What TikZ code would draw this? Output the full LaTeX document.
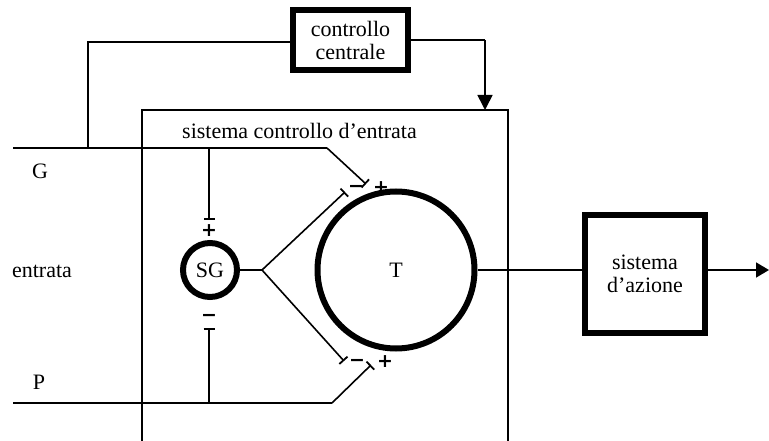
\documentclass[tikz,border=0pt]{standalone}
\usepackage{fontspec}
\setmainfont{Liberation Serif}
\newfontfamily\signfont{DejaVu Sans}
\usetikzlibrary{arrows.meta}
\begin{document}
\begin{tikzpicture}[x=1pt,y=-1pt,
  thin line/.style={line width=1.6pt},
  thickbox/.style={draw,line width=6.5pt,align=center,inner sep=0pt,font=\fontsize{22}{23}\selectfont},
  ring/.style={draw,circle,line width=6pt,inner sep=0pt,font=\fontsize{22}{23}\selectfont},
  lbl/.style={font=\fontsize{22}{23}\selectfont,inner sep=0pt},
  sgn/.style={font=\signfont\fontsize{19}{19}\selectfont\bfseries,inner sep=0pt},
  bartip/.style={-{Bar[width=11pt,line width=1.8pt]}}]
\useasboundingbox (0,0) rectangle (769,441);
% nodes
\node[thickbox,minimum width=115,minimum height=60] (cc) at (350.5,40) {controllo\\centrale};
\node[thickbox,minimum width=120,minimum height=118] (sa) at (645,274) {sistema\\d’azione};
\node[ring,minimum size=54] (sg) at (210,270) {SG};
\node[ring,minimum size=157] (t) at (396,270) {T};
% outer open box
\coordinate (bl) at (142,441);
\coordinate (btl) at (142,110);
\coordinate (btr) at (508,110);
\coordinate (br) at (508,441);
\draw[thin line] (bl) -- (btl) -- (btr) -- (br);
\node[lbl,anchor=west] (sce) at (182,131) {sistema controllo d’entrata};
% labels
\node[lbl] (G) at (40,171) {G};
\node[lbl] (en) at (42,271) {entrata};
\node[lbl] (P) at (39,382) {P};
% G line
\coordinate (gs) at (13,148);
\coordinate (gk) at (327,148);
\coordinate (ge) at (366,184);
\coordinate (gj) at (209,148);
\coordinate (gb) at (209,220);
\coordinate (cj) at (88,148);
\coordinate (cl) at (88,42);
\draw[thin line] (gs) -- (gk);
\draw[thin line,bartip] (gk) -- (ge);
\draw[thin line,bartip] (gj) -- (gb);
\draw[thin line] (cc.west |- 0,42) -- (cl) -- (cj);
% central control to box
\coordinate (cr) at (485,40);
\coordinate (ca) at (485,110);
\draw[thin line] (cc.east |- cr) -- (cr);
\draw[thin line,-{Triangle[width=15pt,length=15pt]}] (cr) -- (ca);
% P line
\coordinate (ps) at (13,403);
\coordinate (pk) at (332,403);
\coordinate (pe) at (371,365);
\coordinate (pj) at (209,403);
\coordinate (pb) at (209,328);
\draw[thin line] (ps) -- (pk);
\draw[thin line,bartip] (pk) -- (pe);
\draw[thin line,bartip] (pj) -- (pb);
% SG out
\coordinate (sk) at (262,270);
\coordinate (su) at (345,192);
\coordinate (sd) at (344,361);
\draw[thin line] (sg.east) -- (sk);
\draw[thin line,bartip] (sk) -- (su);
\draw[thin line,bartip] (sk) -- (sd);
% T out
\draw[thin line] (t.east) -- (sa.west |- t.east);
\coordinate (out) at (769,270);
\draw[thin line,-{Triangle[width=15pt,length=13pt]}] (sa.east |- t.east) -- (out);
% signs
\node[sgn] (s1) at (209,231) {+};
\node[sgn] (s2) at (209,318) {−};
\node[sgn] (s3) at (356,189) {−};
\node[sgn] (s4) at (381,188) {+};
\node[sgn] (s5) at (357,363) {−};
\node[sgn] (s6) at (385,362) {+};
\end{tikzpicture}
\end{document}
